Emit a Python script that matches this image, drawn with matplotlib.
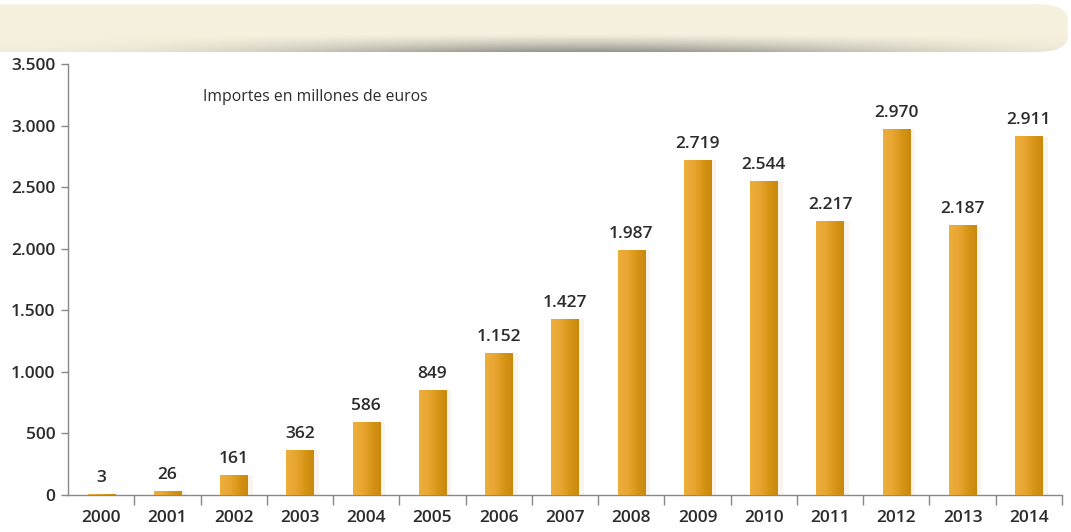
import numpy as np
import matplotlib.pyplot as plt
from matplotlib.patches import FancyBboxPatch
from matplotlib.colors import LinearSegmentedColormap

years = ["2000", "2001", "2002", "2003", "2004", "2005", "2006", "2007",
         "2008", "2009", "2010", "2011", "2012", "2013", "2014"]
importes = [3, 26, 161, 362, 586, 849, 1152, 1427, 1987, 2719, 2544, 2217, 2970, 2187, 2911]
yticks = [0, 500, 1000, 1500, 2000, 2500, 3000, 3500]

def miles(v):
    return f"{v:,}".replace(",", ".")

plt.rcParams['font.family'] = ['Open Sans', 'DejaVu Sans']
txt = "#2b2b2b"

fig = plt.figure(figsize=(10.71, 5.32), dpi=100)

# banner on top
bax = fig.add_axes([0, 1 - 52 / 532, 1, 52 / 532])
bax.set_xlim(0, 1)
bax.set_ylim(0, 1)
bax.axis("off")
h, w = 60, 400
yy = np.linspace(0, 1, h)[:, None]
xx = np.linspace(0, 1, w)[None, :]
shade = np.exp(-((xx - 0.55) / 0.3) ** 2) * np.clip((0.35 - yy) / 0.35, 0, 1) ** 1.3
base = np.array([0.965, 0.945, 0.875])
dark = np.array([0.55, 0.55, 0.52])
img = base[None, None, :] * (1 - shade[..., None] * 0.9) + dark[None, None, :] * (shade[..., None] * 0.9)
img = img[::-1]
box = FancyBboxPatch((-0.05, 0.0), 1.047, 0.92, boxstyle="round,pad=0,rounding_size=0.03",
                     mutation_aspect=10, transform=bax.transAxes, facecolor="none", edgecolor="none")
bax.add_patch(box)
im = bax.imshow(img, extent=(0, 1, 0, 1), aspect="auto", origin="upper")
im.set_clip_path(box)

# main chart
ax = fig.add_axes([68 / 1071, 1 - 495 / 532, (1062 - 68) / 1071, (495 - 64) / 532])
x = np.arange(len(years))
bw = 0.41
cmap = LinearSegmentedColormap.from_list("oro", ["#ecae3c", "#e9a632", "#d89618", "#c9870c"])
grad = np.linspace(0, 1, 64)[None, :]
bars = ax.bar(x, importes, width=bw, color="none", edgecolor="none", zorder=2)
for b in bars:
    bx, by = b.get_x(), b.get_y()
    # soft shadow on the right
    ax.bar(bx + bw / 2 + 0.04, b.get_height(), width=bw + 0.08, color="#f3ead8", alpha=0.45,
           edgecolor="none", zorder=1)
    ax.imshow(grad, cmap=cmap, extent=(bx, bx + bw, by, by + b.get_height()),
              aspect="auto", zorder=3, interpolation="bicubic")

for xi, v in zip(x, importes):
    ax.text(xi, v + 70, miles(v), ha="center", va="bottom", fontsize=12.5,
            color=txt, fontweight="semibold")

ax.set_xlim(-0.5, len(years) - 0.5)
ax.set_ylim(0, 3500)
ax.set_yticks(yticks)
ax.set_yticklabels([miles(t) for t in yticks], fontsize=12.5, color=txt, fontweight="semibold")
ax.set_xticks(x)
ax.set_xticklabels(years, fontsize=12.5, color=txt, fontweight="semibold")
ax.tick_params(axis="x", length=0, pad=11)
ax.set_xticks(np.arange(len(years)) + 0.5, minor=True)
ax.tick_params(axis="x", which="minor", length=7, color="#888888", width=1)
ax.tick_params(axis="y", length=5, color="#888888", width=1, pad=4)
for s in ["top", "right"]:
    ax.spines[s].set_visible(False)
for s in ["left", "bottom"]:
    ax.spines[s].set_color("#888888")
    ax.spines[s].set_linewidth(1)

ax.text(1.53, 3230, "Importes en millones de euros", fontsize=11.3, color=txt, ha="left", va="center")

fig.savefig("out.png", dpi=100)
